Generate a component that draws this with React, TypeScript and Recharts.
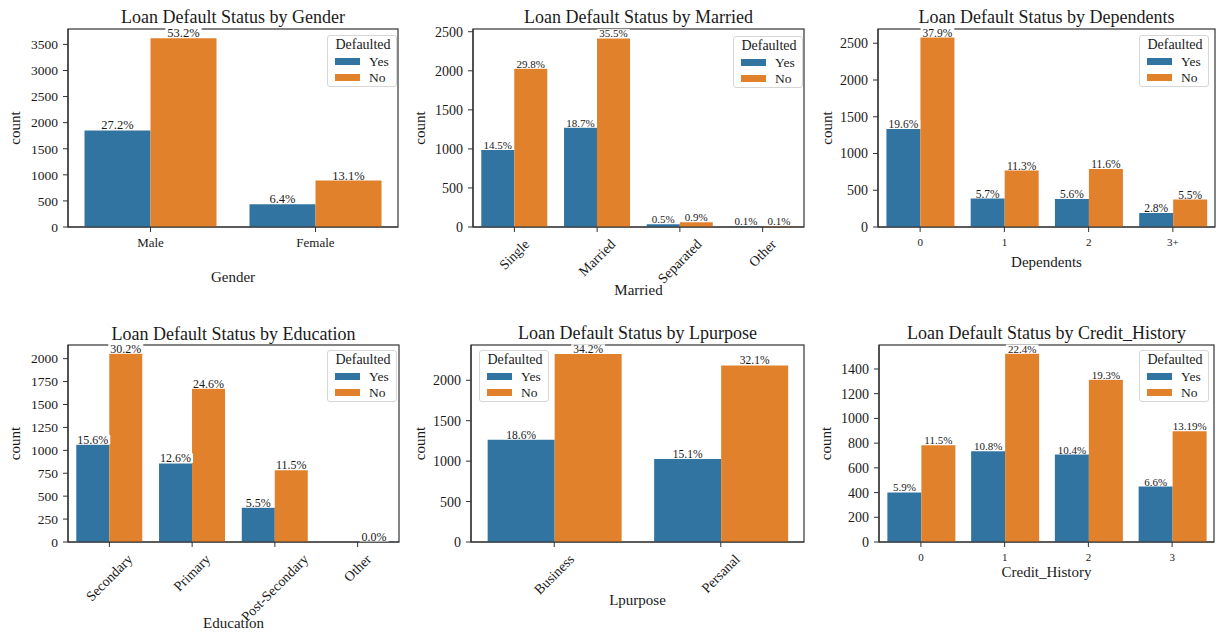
import React from 'react';
import { BarChart, Bar, XAxis, YAxis, LabelList, Legend } from 'recharts';

// ---- Loan counts by category (percent of all applicants) ----
const TOTAL_APPLICANTS = 6800;

const genderCategories = ['Male', 'Female'];
const genderYesPct = [27.2, 6.4];
const genderNoPct = [53.2, 13.1];

const marriedCategories = ['Single', 'Married', 'Separated', 'Other'];
const marriedYesPct = [14.5, 18.7, 0.5, 0.1];
const marriedNoPct = [29.8, 35.5, 0.9, 0.1];

const dependentsCategories = ['0', '1', '2', '3+'];
const dependentsYesPct = [19.6, 5.7, 5.6, 2.8];
const dependentsNoPct = [37.9, 11.3, 11.6, 5.5];

const educationCategories = ['Secondary', 'Primary', 'Post-Secondary', 'Other'];
const educationYesPct: (number | null)[] = [15.6, 12.6, 5.5, null];
const educationNoPct = [30.2, 24.6, 11.5, 0.0];

const purposeCategories = ['Business', 'Persanal'];
const purposeYesPct = [18.6, 15.1];
const purposeNoPct = [34.2, 32.1];

const creditCategories = ['0', '1', '2', '3'];
const creditYesPct = [5.9, 10.8, 10.4, 6.6];
const creditNoPct = [11.5, 22.4, 19.3, 13.19];

const genderTicks = [0, 500, 1000, 1500, 2000, 2500, 3000, 3500];
const marriedTicks = [0, 500, 1000, 1500, 2000, 2500];
const dependentsTicks = [0, 500, 1000, 1500, 2000, 2500];
const educationTicks = [0, 250, 500, 750, 1000, 1250, 1500, 1750, 2000];
const purposeTicks = [0, 500, 1000, 1500, 2000];
const creditTicks = [0, 200, 400, 600, 800, 1000, 1200, 1400];

// ---- styling ----
const SERIF = '"Liberation Serif", "Times New Roman", Times, serif';
const YES_COLOR = '#3274a1';
const NO_COLOR = '#e1812c';
const FRAME = '#333333';
const INK = '#1a1a1a';

const toCount = (p: number | null) => (p == null ? null : (p * TOTAL_APPLICANTS) / 100);

const buildRows = (cats: string[], yes: (number | null)[], no: (number | null)[]) =>
  cats.map((c, i) => ({
    cat: c,
    yesPct: yes[i],
    noPct: no[i],
    yes: toCount(yes[i]),
    no: toCount(no[i]),
  }));

const fmtPct = (v: number) => {
  const s = v.toFixed(2);
  return (s.endsWith('0') ? s.slice(0, -1) : s) + '%';
};

let measureCtx: CanvasRenderingContext2D | null = null;
const textWidth = (s: string, fs: number) => {
  if (!measureCtx && typeof document !== 'undefined') {
    measureCtx = document.createElement('canvas').getContext('2d');
  }
  if (!measureCtx) return s.length * fs * 0.5;
  measureCtx.font = `${fs}px "Liberation Serif"`;
  return measureCtx.measureText(s).width;
};

type Rect = { l: number; r: number; t: number; b: number };

type PanelCfg = {
  title: string;
  xLabel: string;
  rows: ReturnType<typeof buildRows>;
  ticks: number[];
  yMax: number;
  plot: Rect;
  titleY: number;
  xLabelY: number;
  yLabelX: number;
  rotate: boolean;
  xFont: number;
  xOffset: number;
  yFont: number;
  pctFont: number;
  legend: { x: number; y: number };
};

const panels: PanelCfg[] = [
  {
    title: 'Loan Default Status by Gender',
    xLabel: 'Gender',
    rows: buildRows(genderCategories, genderYesPct, genderNoPct),
    ticks: genderTicks,
    yMax: 3795,
    plot: { l: 68, r: 398, t: 29, b: 227 },
    titleY: 17,
    xLabelY: 277,
    yLabelX: 15,
    rotate: false,
    xFont: 13,
    xOffset: 15,
    yFont: 13.5,
    pctFont: 12.5,
    legend: { x: 327, y: 35 },
  },
  {
    title: 'Loan Default Status by Married',
    xLabel: 'Married',
    rows: buildRows(marriedCategories, marriedYesPct, marriedNoPct),
    ticks: marriedTicks,
    yMax: 2535,
    plot: { l: 473, r: 804, t: 29, b: 227 },
    titleY: 17,
    xLabelY: 290,
    yLabelX: 420,
    rotate: true,
    xFont: 14,
    xOffset: 10,
    yFont: 14,
    pctFont: 11,
    legend: { x: 733, y: 36 },
  },
  {
    title: 'Loan Default Status by Dependents',
    xLabel: 'Dependents',
    rows: buildRows(dependentsCategories, dependentsYesPct, dependentsNoPct),
    ticks: dependentsTicks,
    yMax: 2694,
    plot: { l: 878, r: 1215, t: 29, b: 227 },
    titleY: 17,
    xLabelY: 262,
    yLabelX: 827,
    rotate: false,
    xFont: 11,
    xOffset: 15,
    yFont: 14,
    pctFont: 11.5,
    legend: { x: 1139, y: 35 },
  },
  {
    title: 'Loan Default Status by Education',
    xLabel: 'Education',
    rows: buildRows(educationCategories, educationYesPct, educationNoPct),
    ticks: educationTicks,
    yMax: 2149,
    plot: { l: 68, r: 399, t: 345, b: 542 },
    titleY: 334,
    xLabelY: 623,
    yLabelX: 15,
    rotate: true,
    xFont: 14,
    xOffset: 10,
    yFont: 13.5,
    pctFont: 12,
    legend: { x: 327, y: 350 },
  },
  {
    title: 'Loan Default Status by Lpurpose',
    xLabel: 'Lpurpose',
    rows: buildRows(purposeCategories, purposeYesPct, purposeNoPct),
    ticks: purposeTicks,
    yMax: 2436,
    plot: { l: 471, r: 804, t: 345, b: 542 },
    titleY: 333,
    xLabelY: 600,
    yLabelX: 420,
    rotate: true,
    xFont: 14,
    xOffset: 10,
    yFont: 14,
    pctFont: 11.5,
    legend: { x: 479, y: 350 },
  },
  {
    title: 'Loan Default Status by Credit_History',
    xLabel: 'Credit_History',
    rows: buildRows(creditCategories, creditYesPct, creditNoPct),
    ticks: creditTicks,
    yMax: 1594,
    plot: { l: 879, r: 1214, t: 345, b: 542 },
    titleY: 333,
    xLabelY: 572,
    yLabelX: 826,
    rotate: false,
    xFont: 11,
    xOffset: 14.5,
    yFont: 14,
    pctFont: 11,
    legend: { x: 1139, y: 350 },
  },
];

const TICK_LEN = 5;
const Y_AXIS_W = 60;
const TOP_PAD = 10;
const RIGHT_PAD = 10;
const X_AXIS_H = 90;

const makeXTick = (cfg: PanelCfg) => (props: any) => {
  const { x, y, payload } = props;
  const axisY = y - TICK_LEN;
  const label = String(payload.value);
  if (cfg.rotate) {
    const L = textWidth(label, cfg.xFont);
    const cy = axisY + cfg.xOffset + (L + cfg.xFont) / (2 * Math.SQRT2);
    return (
      <text
        transform={`translate(${x},${cy}) rotate(-45)`}
        textAnchor="middle"
        dominantBaseline="central"
        fontSize={cfg.xFont}
        fill={INK}
        fontFamily={SERIF}
      >
        {label}
      </text>
    );
  }
  return (
    <text
      x={x}
      y={axisY + cfg.xOffset}
      textAnchor="middle"
      dominantBaseline="central"
      fontSize={cfg.xFont}
      fill={INK}
      fontFamily={SERIF}
    >
      {label}
    </text>
  );
};

// Percentage above each bar, on a small white box like a text bbox
const makePctLabel = (fs: number) => (props: any) => {
  const { x, y, width, value } = props;
  if (value == null) return null;
  const text = fmtPct(Number(value));
  const cx = Number(x) + Number(width) / 2;
  const base = Number(y) - 1;
  const w = textWidth(text, fs) + 4;
  return (
    <g>
      <rect x={cx - w / 2} y={base - fs * 0.75} width={w} height={fs * 0.75 + 0.5} fill="#ffffff" />
      <text x={cx} y={base} textAnchor="middle" fontSize={fs} fill={INK} fontFamily={SERIF}>
        {text}
      </text>
    </g>
  );
};

const LegendBox = () => (
  <div
    style={{
      width: 70,
      height: 52,
      boxSizing: 'border-box',
      border: '1px solid #d6d6d6',
      borderRadius: 3,
      background: 'rgba(255,255,255,0.85)',
      fontFamily: SERIF,
      color: INK,
      position: 'relative',
    }}
  >
    <div style={{ position: 'absolute', left: 0, width: 70, top: 2, textAlign: 'center', fontSize: 14, lineHeight: '14px' }}>
      Defaulted
    </div>
    {[
      { name: 'Yes', color: YES_COLOR, top: 22 },
      { name: 'No', color: NO_COLOR, top: 38 },
    ].map((it) => (
      <div key={it.name}>
        <div style={{ position: 'absolute', left: 7, top: it.top, width: 25, height: 7, background: it.color }} />
        <div style={{ position: 'absolute', left: 41, top: it.top - 3, fontSize: 13.5, lineHeight: '13px' }}>{it.name}</div>
      </div>
    ))}
  </div>
);

function Panel({ cfg }: { cfg: PanelCfg }) {
  const { plot } = cfg;
  const chartX = plot.l - Y_AXIS_W;
  const chartY = plot.t - TOP_PAD;
  const width = plot.r - plot.l + Y_AXIS_W + RIGHT_PAD;
  const height = plot.b - plot.t + TOP_PAD + X_AXIS_H;
  return (
    <div style={{ position: 'absolute', left: chartX, top: chartY }}>
      <BarChart
        width={width}
        height={height}
        data={cfg.rows}
        margin={{ top: TOP_PAD, right: RIGHT_PAD, bottom: 0, left: 0 }}
        barCategoryGap="10%"
        barGap={0}
      >
        <XAxis
          dataKey="cat"
          type="category"
          height={X_AXIS_H}
          tickSize={TICK_LEN}
          tickMargin={0}
          tickLine={{ stroke: FRAME }}
          axisLine={{ stroke: FRAME, strokeWidth: 1.2 }}
          tick={makeXTick(cfg)}
          interval={0}
        />
        <YAxis
          type="number"
          domain={[0, cfg.yMax]}
          ticks={cfg.ticks}
          allowDataOverflow
          width={Y_AXIS_W}
          tickSize={TICK_LEN}
          tickMargin={5}
          tickLine={{ stroke: FRAME }}
          axisLine={{ stroke: FRAME, strokeWidth: 1.2 }}
          tick={{ fontSize: cfg.yFont, fill: INK, fontFamily: SERIF }}
          interval={0}
        />
        <Legend
          layout="vertical"
          align="center"
          verticalAlign="middle"
          content={<LegendBox />}
          wrapperStyle={{ left: cfg.legend.x - chartX, top: cfg.legend.y - chartY, width: 70, height: 52 }}
        />
        <Bar dataKey="yes" name="Yes" fill={YES_COLOR} minPointSize={0.01} isAnimationActive={false}>
          <LabelList dataKey="yesPct" content={makePctLabel(cfg.pctFont)} />
        </Bar>
        <Bar dataKey="no" name="No" fill={NO_COLOR} minPointSize={0.01} isAnimationActive={false}>
          <LabelList dataKey="noPct" content={makePctLabel(cfg.pctFont)} />
        </Bar>
      </BarChart>
    </div>
  );
}

export default function App() {
  return (
    <div
      style={{
        position: 'absolute',
        left: 0,
        top: 0,
        width: 1218,
        height: 633,
        overflow: 'hidden',
        background: '#ffffff',
        fontFamily: SERIF,
      }}
    >
      {/* axes frames sit underneath the charts so label boxes can cover them */}
      <svg width={1218} height={633} style={{ position: 'absolute', left: 0, top: 0 }}>
        {panels.map((cfg) => (
          <rect
            key={cfg.title}
            x={cfg.plot.l}
            y={cfg.plot.t}
            width={cfg.plot.r - cfg.plot.l}
            height={cfg.plot.b - cfg.plot.t}
            fill="none"
            stroke={FRAME}
            strokeWidth={1.2}
          />
        ))}
      </svg>
      {panels.map((cfg) => (
        <Panel key={cfg.title} cfg={cfg} />
      ))}
      <svg width={1218} height={633} style={{ position: 'absolute', left: 0, top: 0, pointerEvents: 'none' }}>
        {panels.map((cfg) => {
          const cx = (cfg.plot.l + cfg.plot.r) / 2;
          const cy = (cfg.plot.t + cfg.plot.b) / 2;
          return (
            <g key={cfg.title} fontFamily={SERIF} fill={INK}>
              <text x={cx} y={cfg.titleY} textAnchor="middle" dominantBaseline="central" fontSize={18}>
                {cfg.title}
              </text>
              <text x={cx} y={cfg.xLabelY} textAnchor="middle" dominantBaseline="central" fontSize={15}>
                {cfg.xLabel}
              </text>
              <text
                transform={`translate(${cfg.yLabelX},${cy}) rotate(-90)`}
                textAnchor="middle"
                dominantBaseline="central"
                fontSize={15}
              >
                count
              </text>
            </g>
          );
        })}
      </svg>
    </div>
  );
}
